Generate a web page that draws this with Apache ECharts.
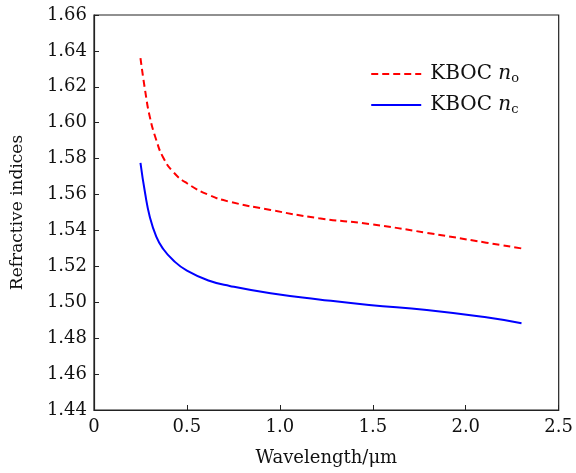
<!DOCTYPE html>
<html><head><meta charset="utf-8">
<script src="https://cdn.jsdelivr.net/npm/echarts@6/dist/echarts.min.js"></script>
<style>html,body{margin:0;padding:0;background:#fff}#c{width:576px;height:473px}</style>
</head><body><div id="c"></div>
<script>
const wavelength = [0.25,0.275,0.30,0.335,0.37,0.425,0.50,0.62,0.73,0.95,1.21,1.48,1.79,2.11,2.30];
const nO = [1.636,1.618,1.6034,1.5904,1.5811,1.5727,1.5663,1.5597,1.5560,1.5514,1.5468,1.5436,1.5387,1.5332,1.5300];
const nC = [1.5777,1.5607,1.5477,1.5365,1.5300,1.5235,1.5176,1.5120,1.5091,1.5050,1.5016,1.4985,1.4957,1.4916,1.4883];
const seriesNames = ['KBOC no','KBOC nc'];

const font = 'DejaVu Serif';
const chart = echarts.init(document.getElementById('c'));
chart.setOption({
  animation:false,
  grid:{left:94,top:15,right:16,bottom:63,show:true,borderColor:'#222',borderWidth:1.2},
  legend:{
    right:52, top:59, orient:'vertical', itemWidth:50, itemHeight:14, itemGap:10,
    itemStyle:{opacity:0},
    data:seriesNames.map(n=>({name:n})),
    formatter:function(name){return '{a|KBOC }{i|n}{s|'+name.slice(-1)+'}';},
    textStyle:{padding:[0,0,0,4],rich:{
      a:{fontFamily:font,fontSize:20,color:'#111'},
      i:{fontFamily:font,fontStyle:'italic',fontSize:20,color:'#111'},
      s:{fontFamily:font,fontSize:13,color:'#111',padding:[9,0,0,0]}
    }}
  },
  xAxis:{type:'value',min:0,max:2.5,interval:0.5,
    name:'Wavelength/μm',nameLocation:'middle',nameGap:39,
    nameTextStyle:{fontFamily:font,fontSize:18,color:'#111'},
    axisLine:{onZero:false,lineStyle:{color:'#222',width:1.2}},
    axisTick:{inside:true,length:5,lineStyle:{color:'#222'}},
    axisLabel:{fontFamily:font,fontSize:18,color:'#111',margin:8,
      formatter:v=>v===0?'0':v.toFixed(1)},
    splitLine:{show:false}},
  yAxis:{type:'value',min:1.44,max:1.66,interval:0.02,
    name:'Refractive indices',nameLocation:'middle',nameGap:68,
    nameTextStyle:{fontFamily:font,fontSize:17,color:'#111'},
    axisLine:{onZero:false,lineStyle:{color:'#222',width:1.2}},
    axisTick:{inside:true,length:5,lineStyle:{color:'#222'}},
    axisLabel:{fontFamily:font,fontSize:18,color:'#111',margin:7,
      formatter:v=>v.toFixed(2)},
    splitLine:{show:false}},
  series:[
    {name:seriesNames[0],type:'line',smooth:0.5,symbol:'none',
     data:wavelength.map((x,i)=>[x,nO[i]]),
     lineStyle:{color:'#ff0000',width:2,type:[7,4]},itemStyle:{color:'#ff0000'}},
    {name:seriesNames[1],type:'line',smooth:0.5,symbol:'none',
     data:wavelength.map((x,i)=>[x,nC[i]]),
     lineStyle:{color:'#0000ff',width:2},itemStyle:{color:'#0000ff'}}
  ]
});
</script></body></html>
